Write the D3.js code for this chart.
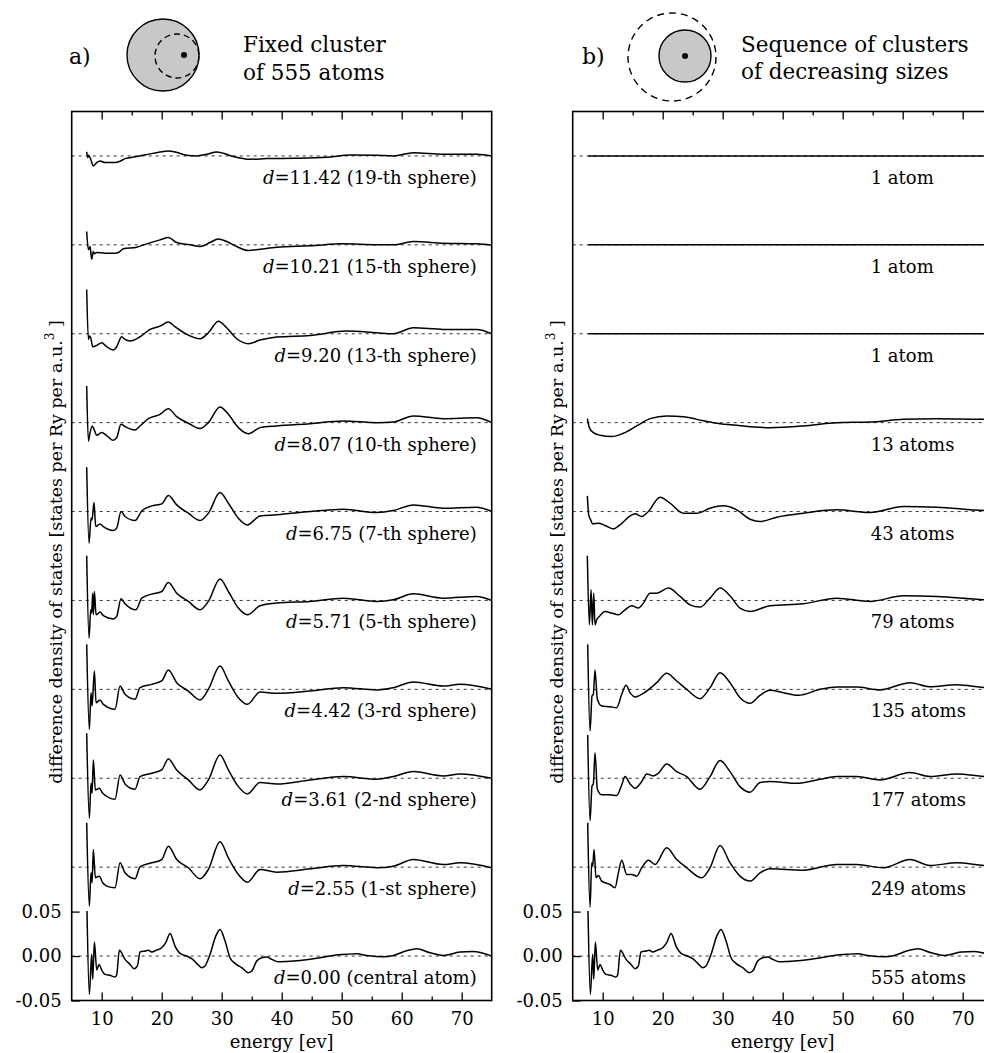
<!DOCTYPE html>
<html><head><meta charset="utf-8">
<script src="https://cdn.jsdelivr.net/npm/d3@7"></script>
<style>
body{margin:0;background:#fff}
svg{display:block}
text{font-family:"DejaVu Serif",serif;fill:#000}
</style>
</head><body>
<svg id="chart" width="984" height="1053"></svg>
<script>
// ---------- data (values in units of 1e-3 states per Ry per a.u.^3) ----------
const energyTicks = [10, 20, 30, 40, 50, 60, 70];
const energyMinorTicks = [15, 25, 35, 45, 55, 65];
const yTicks = [-0.05, 0.00, 0.05];
const offsets = [0, 0.1, 0.2, 0.3, 0.4, 0.5, 0.6, 0.7, 0.8, 0.9];

const labelsA = ["0.00 (central atom)", "2.55 (1-st sphere)", "3.61 (2-nd sphere)", "4.42 (3-rd sphere)",
  "5.71 (5-th sphere)", "6.75 (7-th sphere)", "8.07 (10-th sphere)", "9.20 (13-th sphere)",
  "10.21 (15-th sphere)", "11.42 (19-th sphere)"];
const labelsB = ["555 atoms", "249 atoms", "177 atoms", "135 atoms", "79 atoms", "43 atoms", "13 atoms",
  "1 atom", "1 atom", "1 atom"];

const A_d000 = [[7.55,50.6],[7.94,-43.1],[8.33,1.9],[8.5,-26.2],[8.78,15.7],[9.17,-15.7],[9.56,-9.4],[10,-15.7],[10.56,-20.6],[11.39,-21.7],[12.22,-23.6],[12.5,-21],[12.94,6.4],[13.89,-3.7],[14.72,-9.4],[15.39,-14.2],[15.94,-11.2],[16.39,4.5],[17.22,5.6],[17.78,6.4],[18.33,4.5],[19.06,6.4],[20,9.4],[20.67,15],[21.39,25.5],[22.22,11.2],[23.06,3],[24.17,0],[25,-3],[25.83,-8.2],[26.67,-13.1],[27.22,-11.2],[28.06,2],[29.06,23.2],[29.72,30],[30.56,16.9],[31.39,-1.9],[32.22,-8.2],[33.33,-13.1],[34.44,-18.7],[35,-16.9],[35.83,-5.6],[36.67,-1.9],[37.5,-1.1],[38.33,-3.7],[39.44,-6.4],[40.83,-6],[43.06,-4.9],[45.83,-2.6],[48.61,0.7],[50.83,2],[52.5,2.6],[54.17,0.7],[56.94,-0.7],[58.61,0.7],[60.83,6],[62.5,8.2],[64.72,3.7],[66.94,0.7],[69.72,4.5],[71.94,5.2],[74.72,0.7],[75,0]];
const A_d255 = [[7.5,49.8],[7.94,-43.8],[8.22,-6.4],[8.39,-17.6],[8.61,19.9],[8.94,-12],[9.61,-10.1],[10.17,-17.6],[10.83,-21.3],[12.22,-23.2],[13.06,4.9],[13.89,-6.4],[15.56,-13.1],[16.39,0.4],[18.33,4.9],[20,8.6],[21.11,23.6],[22.5,8.6],[24.44,-0.7],[26.39,-13.1],[27.78,-2.6],[29.72,28.5],[31.11,10.5],[32.78,-8.2],[34.28,-16.9],[36.39,-2.6],[39.17,-5.6],[44.72,-1.9],[50.28,1.9],[55.83,-0.7],[58.61,1.1],[61.94,8.6],[66.94,3],[69.72,4.9],[75,-0.7]];
const A_d361 = [[7.5,50.6],[7.94,-44.9],[8.22,-5.6],[8.39,-16.9],[8.61,20.6],[8.94,-13.1],[9.61,-11.2],[10.17,-16.9],[12.22,-23.6],[13.06,3.7],[13.89,-6.4],[15.56,-12.4],[16.39,1.9],[18.33,5.6],[20,9.4],[21.11,21.7],[22.5,9.4],[24.44,-1.9],[26.39,-13.1],[27.78,-1.9],[29.72,26.2],[31.11,9.4],[32.78,-9.4],[34.28,-17.6],[36.39,-4.9],[39.17,-6.4],[44.72,-1.9],[50.28,1.9],[55.83,-1.1],[58.61,1.9],[61.94,7.5],[66.94,2.6],[69.72,4.9],[75,0]];
const A_d442 = [[7.5,50.6],[7.94,-44.9],[8.22,-3.7],[8.39,-18.7],[8.78,20.6],[9.06,-15],[9.72,-12],[10.28,-16.9],[12.22,-22.5],[13.06,3.7],[13.89,-5.6],[15.56,-11.2],[16.39,1.9],[18.33,5.6],[20,9.4],[21.11,21.7],[22.5,7.5],[24.44,-1.9],[26.39,-12],[27.78,0],[29.72,26.2],[31.11,9.4],[32.78,-9.4],[34.28,-16.9],[36.39,-3],[39.17,-4.5],[44.72,-1.9],[50.28,1.9],[55.83,-0.7],[58.61,1.9],[61.94,8.2],[66.94,3.7],[69.72,5.6],[75,0]];
const A_d571 = [[7.5,50.2],[7.89,-42.3],[8.17,-10.5],[8.33,-14.2],[8.5,8.2],[8.61,-16.1],[8.78,10.1],[9.06,-16.1],[9.72,-13.1],[10.28,-17.2],[11.94,-21],[12.5,-18],[13.22,1.9],[13.89,-3.7],[15.72,-10.5],[16.67,2.6],[18.33,7.1],[20,10.1],[21.11,20.2],[22.5,8.2],[24.44,-1.1],[26.39,-10.5],[27.78,-1.1],[29.72,24],[31.11,10.1],[32.78,-8.6],[34.28,-16.1],[36.39,-6],[39.17,-3],[44.72,-1.1],[50.28,2.6],[55.83,-1.1],[58.61,0.7],[61.94,7.5],[66.94,2.6],[72.5,4.5],[75,0]];
const A_d675 = [[7.5,49.8],[7.89,-35.6],[8.22,-7.5],[8.39,-9.4],[8.72,10.1],[9,-16.9],[9.72,-13.9],[10.28,-16.9],[11.94,-21.3],[12.5,-18.7],[13.22,0],[13.89,-5.6],[15.56,-10.1],[16.67,0.7],[18.33,6.4],[20,8.6],[21.11,18],[22.5,7.5],[24.44,-1.9],[26.39,-10.1],[27.78,-1.9],[29.72,21.3],[31.11,9.4],[32.78,-7.5],[34.28,-15],[36.39,-4.9],[39.17,-3.7],[44.72,0],[50.28,2.6],[55.83,-1.1],[58.61,1.1],[61.94,7.5],[66.94,3.7],[72.5,4.9],[75,0]];
const A_d807 = [[7.5,41.2],[7.78,-20.6],[8.06,-11.2],[8.44,-3.7],[8.72,-7.5],[9.17,-14.2],[10,-11.2],[10.56,-13.1],[11.94,-19.9],[12.5,-16.9],[13.22,-1.9],[13.89,-4.5],[15.56,-8.2],[16.39,-3.7],[17.78,4.5],[19.72,9.4],[21.11,15.7],[22.5,6.7],[24.44,-0.7],[26.39,-6.7],[27.78,0],[29.72,17.6],[31.11,9.4],[32.78,-5.6],[34.44,-12.4],[36.39,-5.6],[39.17,-3.7],[44.72,-1.1],[50.28,1.9],[55.83,0],[58.61,0.7],[61.94,7.5],[66.94,4.5],[72.5,5.6],[75,0]];
const A_d920 = [[7.5,49.8],[7.78,-6.4],[7.94,-2.6],[8.17,-4.5],[8.5,-14.6],[9.17,-13.1],[10,-10.1],[10.83,-14.6],[11.94,-18.4],[12.5,-14.6],[13.33,-3.4],[13.89,-6.4],[14.72,-8.2],[16.39,-3.4],[18.06,4.9],[19.72,8.6],[21.11,13.1],[22.22,7.9],[24.17,-0.7],[26.39,-5.6],[27.78,1.1],[29.44,14.2],[30.83,6.7],[32.5,-5.6],[34.44,-11.2],[36.39,-7.1],[39.17,-3.7],[44.72,-1.9],[50.83,3],[55.83,1.1],[58.61,0],[61.94,6.7],[66.94,4.9],[72.5,4.9],[75,0]];
const A_d1021 = [[7.5,15],[7.78,-5.6],[8.06,-1.9],[8.33,-16.1],[8.61,-7.5],[8.78,-10],[9.17,-8.6],[10.56,-9.4],[12.22,-9.4],[12.78,-8.6],[13.61,-4.5],[15.83,-2.6],[17.5,1.1],[19.72,5.6],[21.11,8.2],[22.5,2.6],[24.72,0],[26.39,-1.9],[28.06,2.6],[29.44,6.7],[30.83,3.7],[32.5,-1.9],[34.44,-6.4],[36.39,-4.9],[39.17,-2.6],[44.72,-1.1],[50.28,1.1],[55.83,0],[58.61,0],[61.94,3.7],[66.94,1.9],[72.5,1.1],[75,-0.4]];
const A_d1142 = [[7.5,4.5],[7.67,-1.9],[7.83,0.7],[8.17,-3.7],[8.61,-11.2],[9.17,-7.5],[9.72,-5.6],[10.56,-7.5],[12.22,-7.5],[13.06,-6],[13.89,-3],[15.83,-0.7],[17.5,1.5],[19.72,4.5],[21.11,5.6],[22.22,4.5],[24.17,0.7],[25.83,0],[27.5,1.9],[29.17,4.5],[30.28,3],[31.94,-0.7],[33.61,-3],[34.72,-3.7],[37.5,-3],[41.94,-2.6],[47.5,-1.5],[51.39,1.1],[55.83,0.7],[58.61,0],[61.94,3.7],[66.94,1.9],[72.5,1.9],[75,0]];

const B_555 = A_d000; // the full 555-atom cluster curve is the central-atom curve
const B_249 = [[7.5,49.8],[7.89,-45],[8.17,4.9],[8.33,1.1],[8.56,19.9],[8.89,-12],[9.28,-9.4],[9.83,-15.7],[11.22,-19.5],[12.06,-23.2],[12.61,-6.4],[13.17,7.9],[14,-8.2],[14.83,-8.2],[15.67,-10.1],[16.5,-0.7],[17.61,7.9],[18.72,3],[20.67,21.7],[22.33,8.6],[24,-0.7],[26.5,-12],[27.89,-0.7],[29.56,24.3],[31.22,4.9],[32.89,-10.1],[34.56,-15.7],[36.22,-6.4],[37.89,-1.9],[43.44,-3.4],[49,3],[52.33,3],[56.78,-0.7],[61.22,8.6],[64.56,1.9],[69,4.9],[73.72,1.9],[75,1.5]];
const B_177 = [[7.5,48.7],[7.89,-47.6],[8.22,-8.6],[8.44,-6.4],[8.72,28.8],[9.11,-12.4],[9.83,-18.7],[11.22,-18.7],[12.33,-19.5],[13.17,-7.5],[13.72,1.9],[14.56,-6.4],[15.39,-11.2],[16.5,-3.7],[17.33,4.9],[18.44,2.6],[19.28,5.6],[20.67,16.1],[22.33,7.5],[24,1.9],[26.22,-12.4],[27.89,1.9],[29.56,19.9],[31.22,7.5],[32.89,-9.4],[34.56,-15.7],[36.22,-4.9],[37.89,-3.7],[42.33,-5.6],[46.22,-1.1],[49,1.9],[52.33,1.9],[56.22,-1.9],[61.22,6.4],[64.56,1.9],[69,4.9],[73.72,1.9],[75,1.5]];
const B_135 = [[7.5,50.6],[7.89,-46.8],[8.22,-7.5],[8.44,-5.6],[8.72,21.7],[9.11,-11.2],[9.83,-18.7],[11.22,-19.5],[12.33,-20.6],[13.17,-5.6],[13.89,4.5],[14.56,-3.7],[15.39,-8.6],[16.78,-4.5],[19,7.5],[20.67,18],[22.33,9.4],[24,0],[26.22,-10.5],[27.89,1.9],[29.56,18.7],[31.22,7.5],[32.89,-9.4],[34.56,-15.7],[36.22,-6.7],[37.89,-1.1],[40.11,-3.7],[42.61,-6.7],[46.22,0],[49,2.6],[52.33,2.6],[56.22,-0.7],[61.22,7.5],[64.56,3],[69,5.2],[73.72,1.9],[75,1.5]];
const B_79 = [[7.44,50.2],[7.78,-27.3],[8.06,12],[8.28,-27.3],[8.5,8.2],[8.72,-27.3],[9,-21.7],[9.44,-18],[10.39,-12.4],[11.5,-14.2],[12.61,-16.1],[13.72,-10.5],[14.83,-6],[15.94,-8.6],[16.78,-3],[17.89,8.2],[19,8.2],[20.94,13.9],[22.89,4.5],[24.56,-4.9],[26.22,-7.5],[27.89,2.6],[29.56,13.9],[31.22,5.2],[32.89,-8.6],[34.56,-12.4],[37.89,-6],[43.44,-3.7],[49,2.6],[54.56,-1.1],[60.11,5.2],[65.67,4.5],[73.72,0.7],[75,0.5]];
const B_43 = [[7.44,17.6],[7.67,-3.7],[8,-9.4],[8.33,-13.9],[9.28,-13.1],[10.39,-15.7],[11.78,-19.5],[12.89,-15],[14.56,-4.9],[15.39,-2.6],[16.5,-5.6],[17.61,0],[19.56,16.1],[21.22,9.4],[23.44,-1.9],[25.67,-1.9],[27.89,3.7],[30.11,6.4],[32.33,1.9],[34.56,-8.6],[36.22,-11.2],[39,-6.4],[43.44,-1.9],[49,1.9],[54.56,-1.1],[60.11,5.6],[65.67,4.9],[73.72,1.1],[75,1]];
const B_13 = [[7.44,4.5],[7.78,-5.6],[8.44,-11.2],[9.56,-14.2],[11.5,-15.7],[13.44,-12],[15.67,-3.7],[17.89,4.5],[20.67,7.5],[23.44,6.7],[25.67,3.7],[28.44,0],[32.33,-3],[37.89,-5.6],[43.44,-3.7],[49,0],[54.56,0.7],[60.11,3.7],[65.67,4.5],[73.72,3.7],[75,3.7]];
const B_1 = [[7.6,0],[75,0]];

const curvesA = [A_d000, A_d255, A_d361, A_d442, A_d571, A_d675, A_d807, A_d920, A_d1021, A_d1142];
const curvesB = [B_555, B_249, B_177, B_135, B_79, B_43, B_13, B_1, B_1, B_1];

// ---------- drawing ----------
const svg = d3.select("#chart");
const y = d3.scaleLinear().domain([-0.05, 0.95]).range([1000.5, 111.5]);

const panels = [
  {x: d3.scaleLinear().domain([5, 75]).range([71.7, 491.7]), curves: curvesA, labels: labelsA, italicD: true, labelAnchor: "end", labelDx: -15},
  {x: d3.scaleLinear().domain([5, 75]).range([572.7, 992.7]), curves: curvesB, labels: labelsB, italicD: false, labelAnchor: "start", labelDx: 298}
];

const fmt = d => d.toFixed(2);

panels.forEach(p => {
  const x = p.x;
  const [x0, x1] = x.range();
  const yTop = y.range()[1], yBot = y.range()[0];
  const g = svg.append("g");

  // zero lines
  g.selectAll("line.zero").data(offsets).join("line")
    .attr("x1", x0).attr("x2", x1)
    .attr("y1", d => y(d)).attr("y2", d => y(d))
    .attr("stroke", "#333").attr("stroke-width", 1).attr("stroke-dasharray", "3,4");

  // curves
  p.curves.forEach((c, i) => {
    const line = d3.line()
      .x(d => x(d[0]))
      .y(d => y(offsets[i] + d[1] / 1000))
      .curve(d3.curveMonotoneX);
    g.append("path").datum(c).attr("d", line)
      .attr("fill", "none").attr("stroke", "#000").attr("stroke-width", 1.5)
      .attr("stroke-linejoin", "round");
  });

  // labels
  p.labels.forEach((lab, i) => {
    const t = g.append("text")
      .attr("x", p.labelAnchor === "end" ? x1 + p.labelDx : x0 + p.labelDx)
      .attr("y", y(offsets[i]) + 28)
      .attr("text-anchor", p.labelAnchor)
      .attr("font-size", 18);
    if (p.italicD) {
      t.append("tspan").attr("font-style", "italic").text("d");
      t.append("tspan").text("=" + lab);
    } else {
      t.text(lab);
    }
  });

  // axes
  const bottom = g.append("g").attr("transform", `translate(0,${yBot})`)
    .call(d3.axisBottom(x).tickValues(energyTicks).tickSizeInner(-8).tickSizeOuter(0).tickPadding(12));
  bottom.selectAll("text").attr("font-size", 18).attr("font-family", "DejaVu Serif");
  g.append("g").attr("transform", `translate(0,${yBot})`)
    .call(d3.axisBottom(x).tickValues(energyMinorTicks).tickSizeInner(-4).tickSizeOuter(0).tickFormat(""));
  g.append("g").attr("transform", `translate(0,${yTop})`)
    .call(d3.axisTop(x).tickValues(energyTicks).tickSizeInner(-8).tickSizeOuter(0).tickFormat(""));
  g.append("g").attr("transform", `translate(0,${yTop})`)
    .call(d3.axisTop(x).tickValues(energyMinorTicks).tickSizeInner(-4).tickSizeOuter(0).tickFormat(""));
  const left = g.append("g").attr("transform", `translate(${x0},0)`)
    .call(d3.axisLeft(y).tickValues(yTicks).tickSizeInner(-8).tickSizeOuter(0).tickPadding(10).tickFormat(fmt));
  left.selectAll("text").attr("font-size", 18).attr("font-family", "DejaVu Serif");
  g.selectAll(".domain").remove();
  g.selectAll(".tick line").attr("stroke", "#000").attr("stroke-width", 1.3);

  // frame
  g.append("rect").attr("x", x0).attr("y", yTop).attr("width", x1 - x0).attr("height", yBot - yTop)
    .attr("fill", "none").attr("stroke", "#000").attr("stroke-width", 1.6);

  // axis titles
  g.append("text").attr("x", (x0 + x1) / 2).attr("y", 1048).attr("text-anchor", "middle")
    .attr("font-size", 18).text("energy [ev]");
  const yl = g.append("text").attr("transform", `translate(${x0 - 10},552) rotate(-90)`)
    .attr("text-anchor", "middle").attr("font-size", 17.5);
  yl.append("tspan").text("difference density of states [states per Ry per a.u.");
  yl.append("tspan").attr("dy", -8).attr("font-size", 12).text("3");
  yl.append("tspan").attr("dy", 8).text(" ]");
});

// ---------- header schematics ----------
const hdr = svg.append("g");
hdr.append("text").attr("x", 69).attr("y", 64).attr("font-size", 22).text("a)");
hdr.append("circle").attr("cx", 163).attr("cy", 55).attr("r", 36).attr("fill", "#c8c8c8").attr("stroke", "#000").attr("stroke-width", 1.4);
hdr.append("circle").attr("cx", 177).attr("cy", 56).attr("r", 22).attr("fill", "none").attr("stroke", "#000").attr("stroke-width", 1.4).attr("stroke-dasharray", "6,4");
hdr.append("circle").attr("cx", 184).attr("cy", 55).attr("r", 3).attr("fill", "#000");
hdr.append("text").attr("x", 243).attr("y", 52).attr("font-size", 21.5).text("Fixed cluster");
hdr.append("text").attr("x", 243).attr("y", 80).attr("font-size", 21.5).text("of 555 atoms");

hdr.append("text").attr("x", 582).attr("y", 64).attr("font-size", 22).text("b)");
hdr.append("circle").attr("cx", 672).attr("cy", 57).attr("r", 44).attr("fill", "none").attr("stroke", "#000").attr("stroke-width", 1.4).attr("stroke-dasharray", "7,5");
hdr.append("circle").attr("cx", 685).attr("cy", 56).attr("r", 26).attr("fill", "#c8c8c8").attr("stroke", "#000").attr("stroke-width", 1.4);
hdr.append("circle").attr("cx", 685).attr("cy", 56).attr("r", 3).attr("fill", "#000");
hdr.append("text").attr("x", 741).attr("y", 52).attr("font-size", 21.5).text("Sequence of clusters");
hdr.append("text").attr("x", 741).attr("y", 79).attr("font-size", 21.5).text("of decreasing sizes");
</script>
</body></html>
